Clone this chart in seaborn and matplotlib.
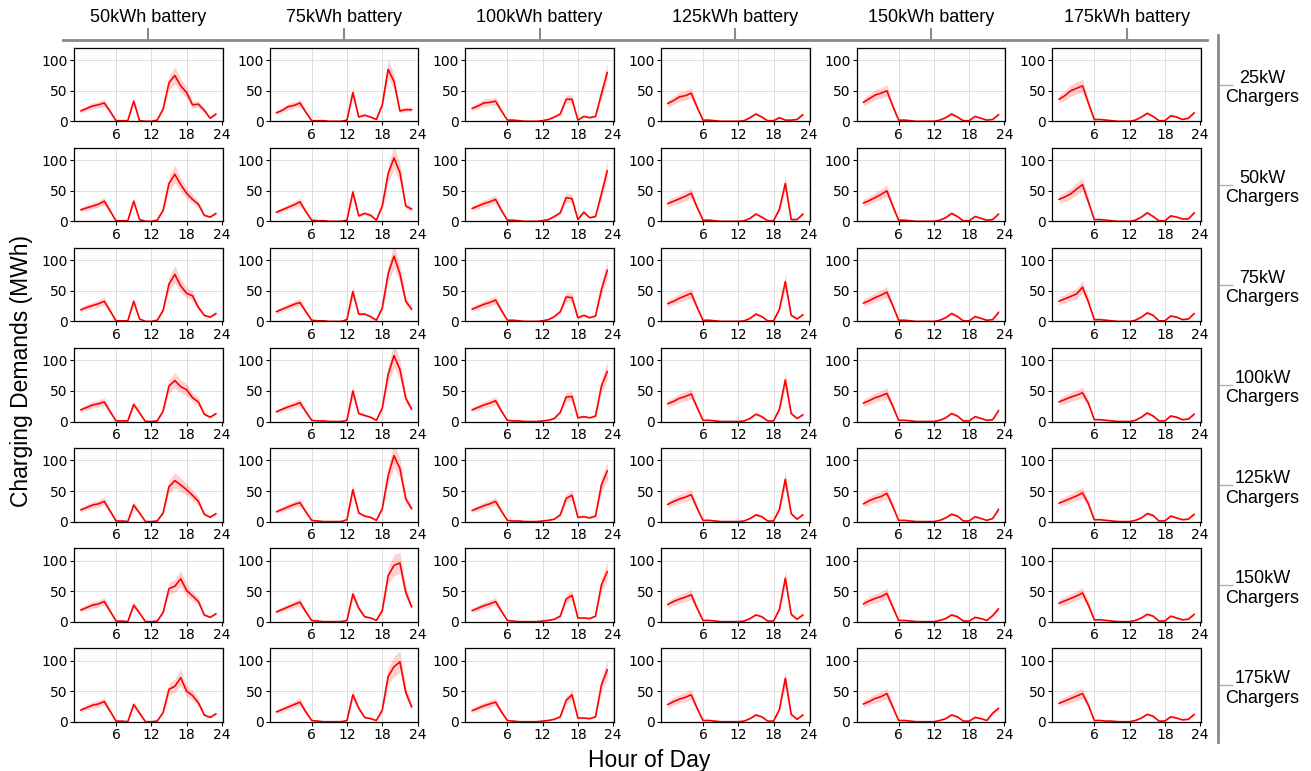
import numpy as np
import pandas as pd
import matplotlib
matplotlib.use("Agg")
import matplotlib.pyplot as plt
import seaborn as sns

# ---------------- data ----------------
hours = list(range(24))
batteries = ["50kWh battery", "75kWh battery", "100kWh battery",
             "125kWh battery", "150kWh battery", "175kWh battery"]
chargers = ["25kW\nChargers", "50kW\nChargers", "75kW\nChargers", "100kW\nChargers",
            "125kW\nChargers", "150kW\nChargers", "175kW\nChargers"]

# mean charging demand (MWh) per hour; one list per charger power (rows)
demand_50kwh = [
    [17, 21, 25, 27, 30, 16, 1, 1, 1, 33, 1, 0, 0, 2, 20, 63, 75, 58, 47, 27, 28, 18, 5, 12],
    [19, 22, 25, 28, 33, 17, 1, 1, 1, 33, 3, 0, 0, 2, 18, 62, 77, 60, 46, 36, 28, 10, 7, 13],
    [19, 23, 26, 29, 33, 17, 1, 1, 1, 33, 4, 0, 0, 2, 18, 61, 77, 58, 46, 42, 23, 10, 7, 13],
    [19, 23, 27, 29, 32, 16, 1, 1, 1, 28, 14, 0, 0, 1, 17, 58, 67, 57, 52, 39, 32, 12, 7, 13],
    [19, 23, 27, 29, 33, 17, 1, 1, 0, 27, 14, 0, 0, 1, 14, 57, 67, 60, 52, 43, 33, 12, 7, 13],
    [19, 23, 27, 29, 33, 17, 1, 1, 0, 27, 14, 0, 0, 1, 15, 54, 58, 70, 51, 42, 33, 11, 7, 13],
    [19, 23, 27, 29, 33, 17, 1, 1, 0, 28, 14, 0, 0, 1, 15, 53, 58, 72, 50, 43, 31, 11, 7, 13],
]
demand_75kwh = [
    [14, 18, 24, 26, 30, 15, 1, 1, 1, 0, 0, 0, 2, 47, 7, 10, 7, 3, 27, 85, 65, 17, 19, 19],
    [15, 19, 23, 27, 32, 16, 2, 1, 1, 0, 0, 0, 2, 48, 9, 13, 10, 2, 25, 78, 104, 80, 25, 20],
    [16, 20, 24, 28, 31, 16, 2, 1, 1, 0, 0, 0, 3, 49, 12, 12, 8, 2, 22, 78, 107, 78, 33, 20],
    [16, 20, 24, 27, 31, 16, 2, 1, 1, 0, 0, 0, 2, 50, 13, 10, 7, 2, 22, 77, 108, 85, 38, 20],
    [16, 20, 24, 28, 31, 16, 2, 1, 0, 0, 0, 0, 3, 52, 14, 9, 7, 2, 21, 75, 108, 87, 37, 21],
    [16, 20, 24, 28, 32, 16, 2, 1, 0, 0, 0, 0, 2, 45, 22, 8, 6, 2, 18, 75, 92, 96, 48, 24],
    [16, 20, 24, 28, 32, 16, 2, 1, 0, 0, 0, 0, 2, 44, 22, 7, 5, 2, 19, 74, 90, 98, 48, 24],
]
demand_100kwh = [
    [21, 25, 30, 31, 33, 17, 2, 2, 1, 0, 0, 0, 1, 3, 7, 12, 36, 36, 2, 8, 6, 8, 45, 80],
    [21, 25, 29, 32, 36, 18, 2, 2, 1, 0, 0, 0, 1, 3, 8, 14, 39, 37, 3, 15, 6, 8, 45, 83],
    [20, 24, 28, 31, 35, 18, 2, 2, 1, 0, 0, 0, 1, 3, 8, 16, 40, 39, 6, 10, 6, 9, 52, 84],
    [19, 23, 27, 30, 34, 17, 2, 1, 1, 0, 0, 0, 1, 2, 5, 15, 40, 41, 6, 8, 6, 9, 58, 82],
    [18, 22, 26, 29, 33, 17, 2, 1, 1, 0, 0, 0, 1, 2, 4, 11, 38, 43, 7, 8, 6, 9, 60, 83],
    [18, 22, 26, 29, 33, 17, 2, 1, 0, 0, 0, 0, 1, 2, 4, 9, 37, 43, 6, 6, 5, 9, 60, 82],
    [18, 22, 26, 29, 32, 16, 2, 1, 0, 0, 0, 0, 1, 2, 4, 8, 35, 44, 6, 6, 5, 8, 60, 85],
]
demand_125kwh = [
    [29, 34, 40, 42, 46, 23, 2, 2, 1, 0, 0, 0, 0, 1, 6, 12, 7, 1, 1, 6, 2, 2, 3, 11],
    [29, 33, 37, 41, 46, 23, 2, 2, 1, 0, 0, 0, 0, 1, 5, 12, 7, 1, 1, 20, 62, 3, 3, 12],
    [29, 33, 38, 42, 46, 23, 2, 2, 1, 0, 0, 0, 0, 1, 5, 12, 8, 1, 1, 20, 65, 10, 4, 11],
    [29, 33, 38, 41, 45, 23, 2, 2, 1, 0, 0, 0, 0, 1, 5, 12, 8, 1, 1, 20, 68, 13, 5, 11],
    [28, 33, 37, 40, 44, 22, 2, 2, 1, 0, 0, 0, 0, 1, 5, 11, 8, 1, 1, 20, 69, 13, 4, 11],
    [28, 33, 37, 40, 44, 22, 2, 2, 1, 0, 0, 0, 0, 1, 5, 11, 8, 1, 1, 20, 71, 12, 4, 11],
    [28, 33, 37, 40, 44, 22, 2, 2, 1, 0, 0, 0, 0, 1, 5, 11, 8, 1, 1, 20, 71, 12, 4, 11],
]
demand_150kwh = [
    [31, 37, 43, 46, 50, 25, 2, 2, 1, 0, 0, 0, 0, 2, 6, 12, 7, 1, 1, 8, 5, 2, 3, 11],
    [30, 34, 39, 44, 50, 25, 2, 2, 1, 0, 0, 0, 0, 2, 6, 13, 8, 1, 1, 8, 5, 2, 3, 12],
    [30, 34, 39, 43, 48, 26, 2, 2, 1, 0, 0, 0, 0, 2, 6, 13, 8, 1, 1, 8, 5, 2, 3, 15],
    [30, 34, 39, 42, 46, 25, 2, 2, 1, 0, 0, 0, 0, 2, 6, 13, 9, 1, 1, 8, 5, 2, 3, 18],
    [29, 34, 38, 41, 46, 25, 2, 2, 1, 0, 0, 0, 0, 2, 6, 12, 9, 1, 1, 8, 5, 2, 5, 20],
    [29, 34, 38, 41, 46, 24, 2, 2, 1, 0, 0, 0, 0, 2, 5, 11, 8, 1, 1, 7, 5, 2, 10, 21],
    [29, 33, 38, 41, 46, 24, 2, 2, 1, 0, 0, 0, 0, 2, 5, 11, 8, 1, 1, 7, 5, 2, 14, 22],
]
demand_175kwh = [
    [36, 42, 50, 54, 58, 30, 3, 3, 2, 1, 0, 0, 0, 2, 7, 13, 8, 1, 1, 9, 7, 3, 5, 14],
    [36, 40, 45, 53, 60, 32, 3, 3, 2, 1, 0, 0, 0, 2, 7, 14, 8, 1, 1, 9, 7, 4, 4, 14],
    [33, 37, 41, 45, 56, 32, 3, 3, 2, 1, 0, 0, 0, 2, 7, 14, 10, 1, 1, 9, 7, 3, 4, 13],
    [32, 36, 40, 43, 47, 30, 3, 3, 2, 1, 0, 0, 0, 2, 7, 14, 9, 1, 1, 9, 7, 3, 4, 12],
    [30, 34, 38, 42, 47, 29, 3, 3, 2, 1, 0, 0, 0, 2, 6, 13, 10, 1, 1, 9, 6, 3, 4, 12],
    [30, 34, 38, 42, 47, 27, 3, 3, 2, 1, 0, 0, 0, 2, 6, 12, 9, 1, 1, 9, 6, 3, 4, 12],
    [30, 34, 38, 42, 46, 27, 2, 2, 1, 1, 0, 0, 0, 2, 6, 12, 9, 1, 1, 8, 6, 3, 4, 12],
]
columns_data = [demand_50kwh, demand_75kwh, demand_100kwh,
                demand_125kwh, demand_150kwh, demand_175kwh]
band_rel = 0.18   # relative half-width of the confidence band

# ---------------- figure ----------------
sns.set_theme(style="ticks")
plt.rcParams["font.family"] = ["DejaVu Sans"]
plt.rcParams["text.color"] = "black"
W, H = 1311, 771
fig = plt.figure(figsize=(W / 100, H / 100), dpi=100)
axes = fig.subplots(7, 6)
fig.subplots_adjust(left=74 / W, right=1201 / W, top=1 - 48 / H, bottom=1 - 721.7 / H,
                    wspace=0.315, hspace=0.365)

for c, col in enumerate(columns_data):
    for r, vals in enumerate(col):
        ax = axes[r, c]
        v = np.array(vals, dtype=float)
        ax.fill_between(hours, v * (1 - band_rel), v * (1 + band_rel) + 0.8,
                        color="red", alpha=0.18, lw=0)
        sns.lineplot(x=hours, y=vals, ax=ax, color="red", lw=1.2)
        ax.set_ylim(0, 120)
        ax.set_xticks([6, 12, 18, 24])
        ax.set_yticks([0, 50, 100])
        ax.grid(True, color="#dedede", lw=0.7)
        ax.set_axisbelow(True)
        ax.tick_params(labelsize=10, length=3, width=0.8, pad=1.5, colors="black")
        ax.set_xlabel("")
        ax.set_ylabel("")
        for s in ax.spines.values():
            s.set_visible(True)
            s.set_color("black")
            s.set_linewidth(0.9)

outer_font = ["Liberation Sans", "DejaVu Sans"]

# top header line with battery labels
x0, x1 = 63 / W, 1207 / W
ytop = 1 - 40 / H
top_ax = fig.add_axes([x0, ytop - 0.05, x1 - x0, 0.05])
top_ax.patch.set_visible(False)
top_ax.set_xlim(x0, x1)
for k in ["left", "right", "bottom"]:
    top_ax.spines[k].set_visible(False)
top_ax.spines["top"].set_color("#8a8a8a")
top_ax.spines["top"].set_linewidth(2.0)
centers_x = [(axes[0, c].get_position().x0 + axes[0, c].get_position().x1) / 2 for c in range(6)]
top_ax.set_xticks(centers_x)
top_ax.set_xticklabels(batteries, fontsize=13, family=outer_font, color="black")
top_ax.tick_params(axis="x", top=True, bottom=False, labeltop=True, labelbottom=False,
                   direction="out", length=8.5, width=1.5, color="#8a8a8a", pad=1.5)
top_ax.set_yticks([])

# right header line with charger labels
xr = 1218 / W
yb, yt = 1 - 742 / H, 1 - 35 / H
right_ax = fig.add_axes([xr - 0.05, yb, 0.05, yt - yb])
right_ax.patch.set_visible(False)
right_ax.set_ylim(yb, yt)
for k in ["left", "top", "bottom"]:
    right_ax.spines[k].set_visible(False)
right_ax.spines["right"].set_color("#8a8a8a")
right_ax.spines["right"].set_linewidth(2.0)
centers_y = [(axes[r, 0].get_position().y0 + axes[r, 0].get_position().y1) / 2 for r in range(7)]
right_ax.set_yticks(centers_y)
right_ax.set_yticklabels(chargers, fontsize=13, family=outer_font, color="black")
right_ax.tick_params(axis="y", right=True, left=False, labelright=True, labelleft=False,
                     direction="out", length=11, width=1.0, color="#b0b0b0", pad=21)
for lab in right_ax.get_yticklabels():
    lab.set_horizontalalignment("center")
    lab.set_multialignment("center")
right_ax.set_xticks([])

fig.text(22 / W, 1 - 371 / H, "Charging Demands (MWh)", rotation=90, ha="center", va="center",
         fontsize=16.5, family=outer_font, color="black")
fig.text(649 / W, 1 - 760 / H, "Hour of Day", ha="center", va="center",
         fontsize=16.5, family=outer_font, color="black")

fig.savefig("out.png", dpi=100)
